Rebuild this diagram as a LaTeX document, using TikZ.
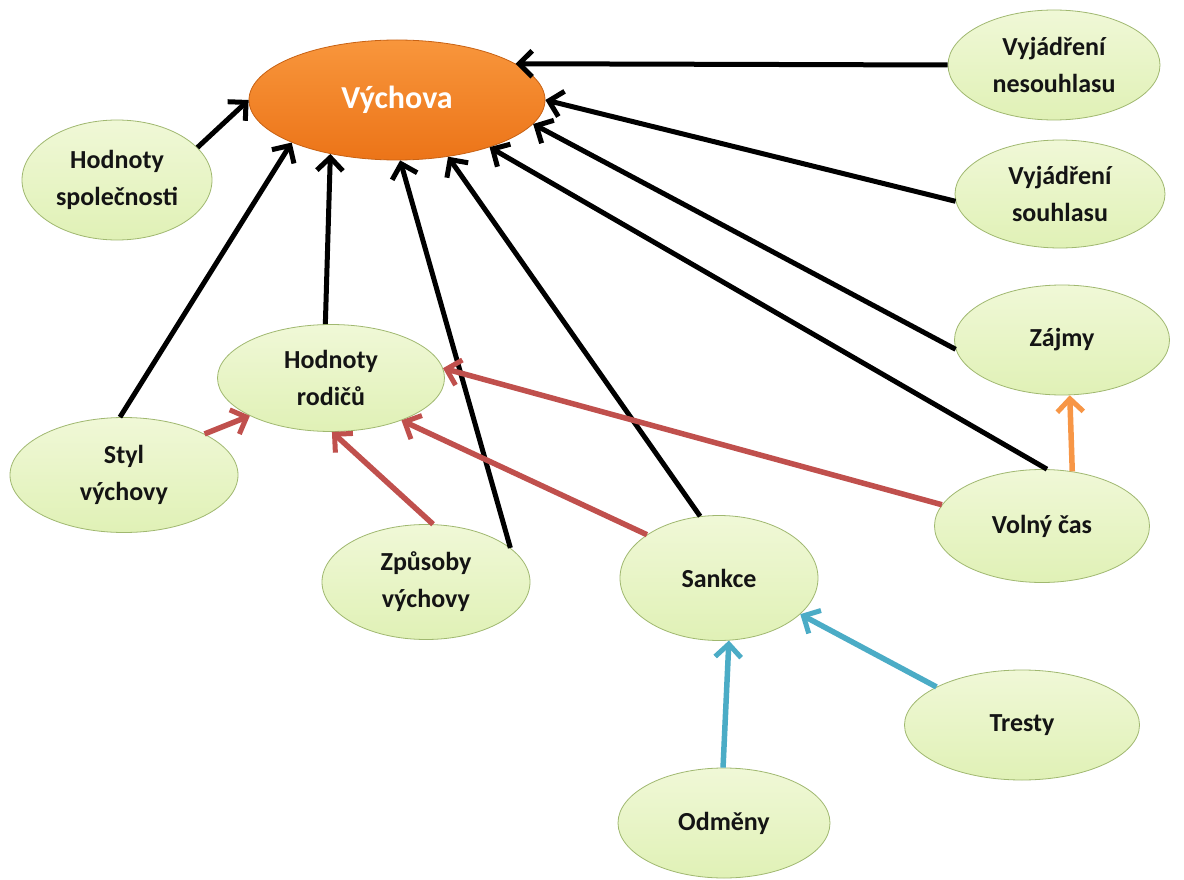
\documentclass[tikz,border=0pt]{standalone}
\usepackage{fontspec}
\setmainfont{Carlito}
\usepackage{tikz}
\usetikzlibrary{shapes.geometric,arrows.meta}
\usepackage{xcolor}
\definecolor{leaftop}{RGB}{240,248,215}
\definecolor{leafbottom}{RGB}{224,241,182}
\definecolor{leafedge}{RGB}{160,184,112}
\definecolor{orangetop}{RGB}{248,150,60}
\definecolor{orangebottom}{RGB}{236,116,24}
\definecolor{orangeedge}{RGB}{200,98,20}
\definecolor{linkred}{RGB}{192,80,77}
\definecolor{linkblue}{RGB}{75,172,198}
\definecolor{linkorange}{RGB}{247,150,70}
\definecolor{textdark}{RGB}{20,20,20}

\begin{document}
\begin{tikzpicture}[x=1pt, y=-1pt,
  idea/.style={ellipse, draw=leafedge, line width=0.8pt, top color=leaftop, bottom color=leafbottom,
    inner sep=0pt, align=center, text=textdark, font=\bfseries\fontsize{26}{37}\selectfont},
  mainidea/.style={ellipse, draw=orangeedge, line width=0.8pt, top color=orangetop, bottom color=orangebottom,
    inner sep=0pt, text=white, font=\bfseries\fontsize{32}{37}\selectfont},
  link/.style={line width=5pt, -{Straight Barb[length=13pt, width=26pt, line width=5pt]}},
  redlink/.style={link, linkred, line width=5.5pt},
  bluelink/.style={link, linkblue, line width=5.5pt},
  orangelink/.style={link, linkorange, line width=5.5pt}]

% Background
\fill[white] (0, 0) rectangle (1184, 880);

% Main node
\node[mainidea, minimum width=296pt, minimum height=120pt] (vychova) at (397, 100) {Výchova};

% Top row
\node[idea, minimum width=190pt, minimum height=120pt] (hspol) at (117, 180) {Hodnoty\\společnosti};
\node[idea, minimum width=212pt, minimum height=110pt] (vnes) at (1054, 65) {Vyjádření\\nesouhlasu};
\node[idea, minimum width=210pt, minimum height=108pt] (vsou) at (1060, 194) {Vyjádření\\souhlasu};
\node[idea, minimum width=215pt, minimum height=110pt] (zajmy) at (1062, 340) {Zájmy};

% Middle row
\node[idea, minimum width=227pt, minimum height=107pt] (hrod) at (331, 378) {Hodnoty\\rodičů};
\node[idea, minimum width=228pt, minimum height=115pt] (styl) at (124, 475) {Styl\\výchovy};
\node[idea, minimum width=208pt, minimum height=115pt] (zpus) at (426, 582) {Způsoby\\výchovy};
\node[idea, minimum width=198pt, minimum height=125pt] (sankce) at (719, 578) {Sankce};
\node[idea, minimum width=215pt, minimum height=113pt] (volny) at (1042, 526) {Volný čas};

% Bottom row
\node[idea, minimum width=235pt, minimum height=110pt] (tresty) at (1022, 725) {Tresty};
\node[idea, minimum width=212pt, minimum height=110pt] (odmeny) at (724, 823) {Odměny};

% Black links to the main node
\draw[link] (hspol.22) -- (vychova.180);
\draw[link] (styl.94) -- (vychova.202);
\draw[link] (hrod.96) -- (vychova.219);
\draw[link] (zpus.22) -- (vychova.273);
\draw[link] (sankce.107) -- (vychova.312);
\draw[link] (volny.85) -- (vychova.333);
\draw[link] (zajmy.185) -- (vychova.350);
\draw[link] (vsou.184) -- (vychova.0);
\draw[link] (vnes.180) -- (vychova.17);

% Red links to parents' values
\draw[redlink] (styl.27) -- (hrod.205);
\draw[redlink] (zpus.83) -- (hrod.271);
\draw[redlink] (sankce.149) -- (hrod.329);
\draw[redlink] (volny.168) -- (hrod.5);

% Leisure to interests
\draw[orangelink] (volny.61) -- (zajmy.278);

% Sanctions
\draw[bluelink] (odmeny.91) -- (sankce.279);
\draw[bluelink] (tresty.156) -- (sankce.336);

\end{tikzpicture}
\end{document}
